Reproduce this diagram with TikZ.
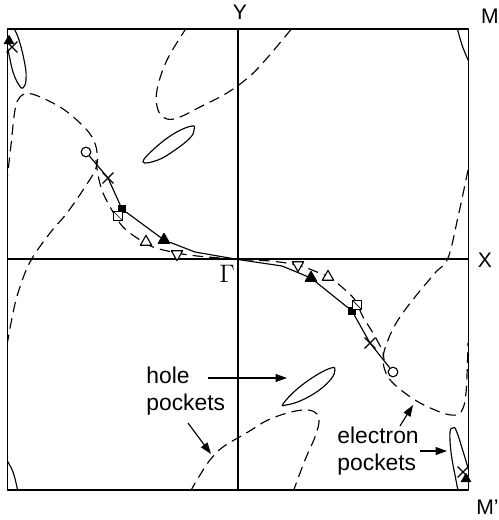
\documentclass[tikz,border=0pt]{standalone}
\usepackage{fontspec}
\setmainfont{Liberation Sans}
\usetikzlibrary{shapes.geometric,shapes.misc,arrows.meta}
\tikzset{
  opencirc/.style={circle,draw,fill=white,inner sep=0pt,minimum size=5.5pt},
  fullsq/.style={rectangle,fill,inner sep=0pt,minimum size=4.2pt},
  opensq/.style={rectangle,draw,fill=white,inner sep=0pt,minimum size=4.8pt,
    path picture={\draw[line width=0.4pt] (path picture bounding box.north west)--(path picture bounding box.south east);}},
  tri/.style={regular polygon,regular polygon sides=3,draw,inner sep=0pt,minimum size=7.5pt},
  fulltri/.style={tri,fill},
  uptri/.style={tri,fill=white},
  dntri/.style={tri,fill=white,shape border rotate=180},
  xmark/.style={cross out,draw,inner sep=0pt,minimum size=5.5pt},
  fs/.style={dash pattern=on 6pt off 3.5pt},
  lbl/.style={font=\fontsize{12}{14}\selectfont},
}
\begin{document}
\begin{tikzpicture}[x=0.02cm,y=-0.02cm,line width=0.65pt,line join=round,
  >={Triangle[length=6.5pt,width=4.5pt]},font=\fontsize{13}{15.5}\selectfont]
\useasboundingbox (0,0) rectangle (498,520);
% zone and axes
\draw (7.5,29) rectangle (468.5,490);
\draw (238,29)--(238,490) (7.5,259)--(468.5,259);
\node[lbl] (Y) at (240,12) {Y};
\node[lbl] (M) at (490,16) {M};
\node[lbl] (X) at (485,260) {X};
\node[lbl,anchor=west,inner sep=1pt] (Mp) at (474,507) {M'};
\node[font=\fontsize{14}{16}\selectfont] (gam) at (227,274) {$\Gamma$};
% Fermi surface
\begin{scope}
\clip (7.5,29) rectangle (468.5,490);
\draw[fs] plot[smooth,tension=0.6] coordinates {(7,345) (12,318) (18,293) (30,262) (50,233) (67,213) (85,187) (96,168) (97,152) (92,137) (80,123) (60,107) (32,94) (20,97) (15,110) (11,145) (7,180)};
\draw[fs] plot[smooth,tension=0.6] coordinates {(468,170) (458,217) (448,258) (435,273) (415,297) (398,320) (388,340) (383,358) (386,373) (395,385) (415,400) (435,410) (451,415) (461,412) (466,393) (468,343)};
\draw[fs] plot[smooth,tension=0.6] coordinates {(96,160) (98,175) (103,193) (113,212) (123,227) (137,238) (153,247) (177,253) (197,256) (220,258) (238,259.5) (270,261) (297,265) (317,272) (330,278) (343,288) (355,300) (363,317) (373,333) (382,350) (384,360)};
\draw[fs] plot[smooth,tension=0.6] coordinates {(187,27) (167,60) (157,90) (158,110) (167,119) (180,117) (200,107) (227,93) (250,76) (268,57) (293,27)};
\draw[fs] plot[smooth,tension=0.6] coordinates {(190,492) (200,475) (210,460) (223,447) (248,432) (268,420) (291,412) (308,410) (317,414) (319,422) (315,437) (305,460) (293,492)};
% pockets
\draw plot[smooth cycle,tension=0.7] coordinates {(143,162) (155,148) (175,133) (192,126) (194,130) (190,138) (175,150) (158,160)};
\draw plot[smooth cycle,tension=0.7] coordinates {(283,404) (296,390) (315,376) (331,368) (335,370) (331,379) (318,391) (300,401) (286,405)};
\draw plot[smooth cycle,tension=0.7] coordinates {(5,15) (12,25) (19,40) (25,65) (26,80) (23,88) (19,85) (13,72) (8,50) (3,30)};
\draw plot[smooth cycle,tension=0.7] coordinates {(453,428) (450,432) (451,452) (455,475) (460,495) (470,505) (475,495) (470,475) (462,448) (456,430)};
\draw plot[smooth,tension=0.7] coordinates {(457,27) (462,45) (469,62)};
\draw plot[smooth,tension=0.7] coordinates {(6,459) (13,472) (18,492)};
\end{scope}
% data points
\node[opencirc] (c1) at (86,152) {};
\node[xmark] (x1) at (108,178) {};
\node[fullsq] (s1) at (122,209) {};
\node[opensq] (q1) at (118,216) {};
\node[fulltri] (t1) at (164,240) {};
\node[uptri] (u1) at (146,242) {};
\node[dntri] (d1) at (177,254) {};
\node[opencirc] (c2) at (393,372) {};
\node[xmark] (x2) at (370,343) {};
\node[fullsq] (s2) at (352,311) {};
\node[opensq] (q2) at (357,305) {};
\node[fulltri] (t2) at (311,278) {};
\node[uptri] (u2) at (328,277) {};
\node[dntri] (d2) at (298,265) {};
\node[xmark] (x3) at (12,47) {};
\node[fulltri,minimum size=6pt] (t3) at (9,41) {};
\node[xmark] (x4) at (463,472) {};
\node[fulltri,minimum size=6pt] (t4) at (466,479) {};
\coordinate (k1) at (195,252);
\coordinate (g) at (238,259.5);
\coordinate (k2) at (282,266);
\draw (c1) -- (x1.center) -- (s1) -- (t1) -- (k1) -- (g) -- (k2) -- (t2) -- (s2) -- (x2.center) -- (c2);
% labels
\node[align=left,anchor=west] (hole) at (140,391) {hole\\pockets};
\node[align=left,anchor=west] (elec) at (331,451) {electron\\pockets};
\coordinate (h1s) at (208,378); \coordinate (h1t) at (287,378);
\coordinate (h2s) at (188,423); \coordinate (h2t) at (211,454);
\coordinate (e1s) at (400,426); \coordinate (e1t) at (413,405);
\coordinate (e2s) at (420,451); \coordinate (e2t) at (447,451);
\draw[->] (h1s) -- (h1t);
\draw[->] (h2s) -- (h2t);
\draw[->] (e1s) -- (e1t);
\draw[->] (e2s) -- (e2t);
\end{tikzpicture}
\end{document}
